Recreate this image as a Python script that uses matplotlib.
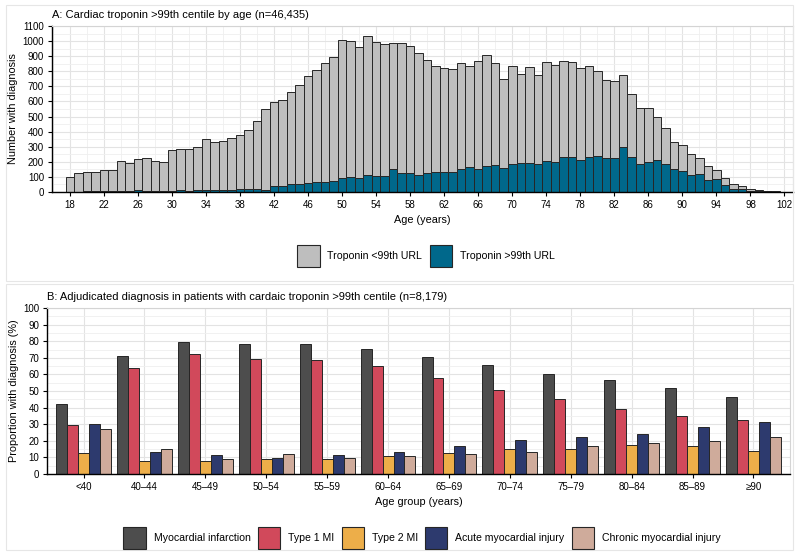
import matplotlib
matplotlib.use("Agg")
import matplotlib.pyplot as plt
import numpy as np
from matplotlib.patches import Patch, Rectangle
from matplotlib.ticker import MultipleLocator

plt.rcParams['font.family'] = ['Liberation Sans', 'DejaVu Sans']

# ---------------- Panel A data ----------------
ages = list(range(18, 103))
trop_high = [3, 3, 4, 4, 5, 4, 6, 5, 10, 8, 7, 9,
             6, 12, 7, 10, 15, 10, 11, 12, 22, 20, 22, 15,
             37, 40, 53, 51, 57, 68, 64, 70, 92, 101, 95, 110,
             108, 103, 154, 125, 128, 114, 123, 134, 134, 130, 154, 167,
             154, 174, 180, 156, 183, 194, 191, 183, 205, 198, 231, 231,
             213, 233, 240, 224, 224, 299, 235, 183, 198, 209, 183, 154,
             139, 114, 117, 81, 84, 46, 20, 20, 9, 7, 4, 2, 1]
trop_low = [97, 120, 126, 126, 140, 141, 199, 189, 208, 216, 200, 191,
            273, 276, 277, 287, 333, 322, 328, 347, 354, 391, 449, 533,
            557, 569, 607, 655, 709, 742, 790, 825, 913, 900, 869, 924,
            886, 880, 832, 861, 842, 808, 753, 698, 691, 684, 704, 665,
            717, 732, 676, 590, 655, 591, 638, 591, 655, 642, 634, 631,
            610, 599, 561, 520, 513, 478, 414, 374, 356, 290, 242, 180,
            173, 137, 105, 88, 63, 49, 33, 22, 11, 6, 5, 2, 1]
a_xticks = list(range(18, 103, 4))
a_yticks = list(range(0, 1101, 100))

# ---------------- Panel B data ----------------
age_groups = ["<40", "40–44", "45–49", "50–54", "55–59", "60–64",
              "65–69", "70–74", "75–79", "80–84", "85–89", "≥90"]
mi = [42.4, 71.3, 79.5, 78.5, 78.5, 75.5, 70.7, 65.7, 60.2, 56.6, 51.6, 46.6]
type1 = [29.5, 63.9, 72.1, 69.1, 68.9, 64.9, 57.8, 50.6, 45.0, 39.4, 34.7, 32.5]
type2 = [12.7, 7.6, 7.6, 9.2, 9.2, 10.6, 12.7, 15.1, 15.1, 17.3, 16.7, 13.9]
acute = [30.1, 13.1, 11.4, 9.4, 11.6, 13.1, 16.9, 20.5, 22.5, 24.3, 28.3, 31.1]
chronic = [27.3, 15.3, 8.8, 12.0, 9.6, 11.0, 12.0, 13.5, 17.1, 18.9, 20.1, 22.1]
b_series = ["Myocardial infarction", "Type 1 MI", "Type 2 MI",
            "Acute myocardial injury", "Chronic myocardial injury"]

c_low = "#bebebe"
c_high = "#00688b"
b_colors = ["#4d4d4d", "#d1495b", "#edae49", "#2d3a6e", "#cfab9b"]
edge = "#262626"

fig = plt.figure(figsize=(8, 5.58), dpi=100)
W, H = 800, 558

def ax_rect(l, t, r, b):
    return [l / W, 1 - b / H, (r - l) / W, (b - t) / H]

# outer panel boxes
for (l, t, r, b) in [(6, 5, 793, 281), (6, 284, 793, 550)]:
    fig.patches.append(Rectangle((l / W, 1 - b / H), (r - l) / W, (b - t) / H,
                                 transform=fig.transFigure, fill=False,
                                 edgecolor="#e6e6e6", lw=0.8, zorder=0))

tick_fs = 7.0
lab_fs = 7.8
title_fs = 8.0
leg_fs = 7.6

def style_axes(ax):
    ax.set_axisbelow(True)
    ax.grid(which="major", color="#e3e3e3", lw=0.8)
    ax.grid(which="minor", color="#efefef", lw=0.6)
    for s in ["left", "bottom"]:
        ax.spines[s].set_color("black")
        ax.spines[s].set_linewidth(1.0)
    for s in ["top", "right"]:
        ax.spines[s].set_color("#d4d4d4")
        ax.spines[s].set_linewidth(0.8)
    ax.tick_params(which="major", direction="out", length=3.2, width=0.8,
                   labelsize=tick_fs, colors="black", pad=2.5)
    ax.tick_params(which="minor", length=0)

# ---------------- Panel A ----------------
axA = fig.add_axes(ax_rect(52, 26, 793, 192))
axA.bar(ages, trop_high, width=1.0, color=c_high, edgecolor=edge, linewidth=0.7,
        label="Troponin >99th URL")
axA.bar(ages, trop_low, width=1.0, bottom=trop_high, color=c_low, edgecolor=edge,
        linewidth=0.7, label="Troponin <99th URL")
axA.set_xlim(15.9, 103.0)
axA.set_ylim(0, 1100)
axA.set_xticks(a_xticks)
axA.set_yticks(a_yticks)
axA.xaxis.set_minor_locator(MultipleLocator(2))
axA.yaxis.set_minor_locator(MultipleLocator(50))
style_axes(axA)
axA.set_xlabel("Age (years)", fontsize=lab_fs, labelpad=3.5)
axA.set_ylabel("Number with diagnosis", fontsize=lab_fs, labelpad=3)
axA.set_title("A: Cardiac troponin >99th centile by age (n=46,435)", loc="left",
              fontsize=title_fs, pad=6)

hA = [Patch(facecolor=c_low, edgecolor=edge, lw=0.8, label="Troponin <99th URL"),
      Patch(facecolor=c_high, edgecolor=edge, lw=0.8, label="Troponin >99th URL")]
fig.legend(handles=hA, loc="center", bbox_to_anchor=(426 / W, 1 - 256 / H), ncol=2,
           frameon=False, fontsize=leg_fs, handlelength=2.1, handleheight=2.9,
           handletextpad=0.75, columnspacing=0.7, borderpad=0)

# ---------------- Panel B ----------------
axB = fig.add_axes(ax_rect(47, 308, 790, 474))
x = np.arange(len(age_groups))
bw = 0.18
for i, (vals, col, name) in enumerate(zip([mi, type1, type2, acute, chronic],
                                          b_colors, b_series)):
    axB.bar(x + (i - 2) * bw, vals, width=bw, color=col, edgecolor=edge,
            linewidth=0.7, label=name)
axB.set_xlim(-0.6, 11.6)
axB.set_ylim(0, 100)
axB.set_xticks(x)
axB.set_xticklabels(age_groups)
axB.set_yticks(range(0, 101, 10))
axB.yaxis.set_minor_locator(MultipleLocator(5))
style_axes(axB)
axB.set_xlabel("Age group (years)", fontsize=lab_fs, labelpad=3.5)
axB.set_ylabel("Proportion with diagnosis (%)", fontsize=lab_fs, labelpad=3)
axB.set_title("B: Adjudicated diagnosis in patients with cardaic troponin >99th centile (n=8,179)",
              loc="left", fontsize=title_fs, pad=6)

hB = [Patch(facecolor=c, edgecolor=edge, lw=0.8, label=n) for c, n in zip(b_colors, b_series)]
fig.legend(handles=hB, loc="center", bbox_to_anchor=(422 / W, 1 - 538 / H), ncol=5,
           frameon=False, fontsize=leg_fs, handlelength=2.1, handleheight=2.9,
           handletextpad=0.75, columnspacing=0.7, borderpad=0)

fig.savefig("out.png", dpi=100)
